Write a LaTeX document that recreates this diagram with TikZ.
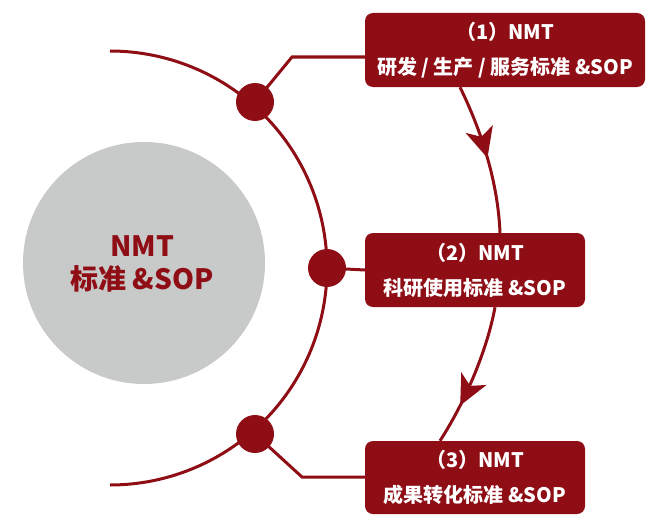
\documentclass[tikz,border=0pt]{standalone}
\usepackage{fontspec}
\setmainfont{Noto Sans CJK SC}
\usetikzlibrary{arrows.meta,decorations.markings}
\definecolor{nred}{RGB}{143,14,22}
\definecolor{ngray}{RGB}{200,201,201}
\begin{document}
\begin{tikzpicture}[x=1pt,y=-1pt,
  line/.style={draw=nred,line width=3pt},
  dot/.style={circle,fill=nred,minimum size=38pt,inner sep=0pt},
  boxnode/.style={fill=nred,rounded corners=8pt,text=white,font=\bfseries\fontsize{20}{35}\selectfont,align=center,inner sep=0pt},
  arrowmark/.style={postaction={decorate},decoration={markings,mark=at position #1 with {\arrow{Stealth[length=30pt,width=28pt,inset=8pt]}}}}
]
\useasboundingbox (0,0) rectangle (663,527);
% hub
\node[circle,fill=ngray,minimum size=242pt,inner sep=0pt] (hub) at (144,263) {};
\node[text=nred,font=\bfseries\fontsize{28}{33}\selectfont,align=center] (hubtxt) at (142,264) {NMT\\标准 \&SOP};
% big arc
\draw[line,domain=-90:90,samples=90,smooth] plot ({110+217*cos(\x)},{268+217*sin(\x)});
% boxes
\node[boxnode,minimum width=280pt,minimum height=74pt] (b1) at (505,50) {（1）NMT\\研发 / 生产 / 服务标准 \&SOP};
\node[boxnode,minimum width=220pt,minimum height=74pt] (b2) at (475,270) {（2）NMT\\科研使用标准 \&SOP};
\node[boxnode,minimum width=220pt,minimum height=73pt] (b3) at (475,477.5) {（3）NMT\\成果转化标准 \&SOP};
% dot positions and connectors
\coordinate (p1) at (255,102);
\coordinate (p2) at (327,268);
\coordinate (p3) at (255,434);
\coordinate (k1) at (292,57);
\coordinate (k3) at (302,477);
\draw[line] (p1) -- (k1) -- (k1 -| b1.west);
\draw[line] (p2) -- (b2.west);
\draw[line] (p3) -- (k3) -- (k3 -| b3.west);
\node[dot] (d1) at (p1) {};
\node[dot] (d2) at (p2) {};
\node[dot] (d3) at (p3) {};
% flow curves
\draw[line,arrowmark=0.5] ([xshift=-45pt]b1.south) .. controls (482,132) and (498,183) .. ([xshift=25pt]b2.north);
\draw[line,arrowmark=0.72] ([xshift=20pt]b2.south) .. controls (487,351) and (464.5,403) .. ([xshift=-35pt]b3.north);
\end{tikzpicture}
\end{document}
